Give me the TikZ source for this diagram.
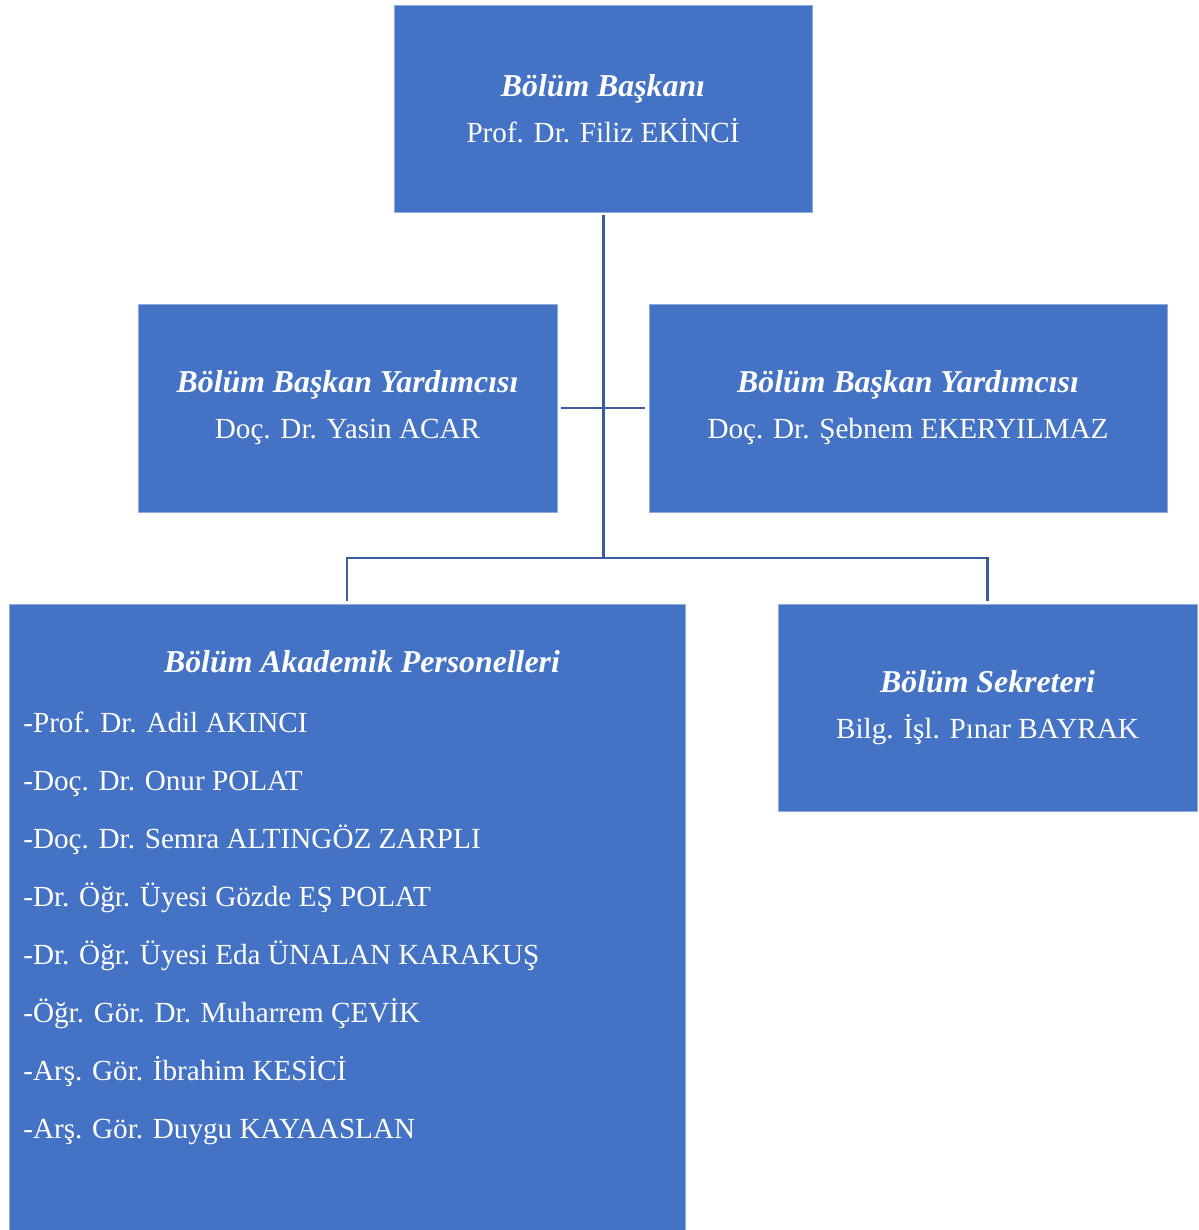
\documentclass[tikz,border=0pt]{standalone}
\usepackage{fontspec}
\setmainfont{Liberation Serif}
\usetikzlibrary{positioning}
\definecolor{boxblue}{HTML}{4472C4}
\definecolor{boxedge}{HTML}{8FAADC}
\definecolor{linkblue}{HTML}{3A5C9E}
\newcommand{\unittitle}[1]{{\fontsize{18.1}{26.2}\selectfont\bfseries\itshape #1}}

\tikzset{
  unit/.style={rectangle, fill=boxblue, draw=boxedge, line width=0.4pt, text=white,
    align=center, inner sep=0pt, font=\fontsize{16.6}{26.2}\selectfont},
  member/.style={text=white, anchor=base west, inner sep=0pt, font=\fontsize{16.6}{20}\selectfont},
  link/.style={draw=linkblue, line width=1.7pt}
}

\begin{document}
\begin{tikzpicture}[x=0.02cm, y=-0.02cm]
  \useasboundingbox (0,0) rectangle (1198,1230);

  % boxes
  \node (head) [unit, minimum width=8.36cm, minimum height=4.14cm] at (603,108.5)
    {\unittitle{Bölüm Başkanı}\\Prof. Dr. Filiz EKİNCİ};
  \node (deputyA) [unit, minimum width=8.38cm, minimum height=4.16cm] at (347.5,408)
    {\unittitle{Bölüm Başkan Yardımcısı}\\Doç. Dr. Yasin ACAR};
  \node (deputyB) [unit, minimum width=10.36cm, minimum height=4.16cm] at (908,408)
    {\unittitle{Bölüm Başkan Yardımcısı}\\Doç. Dr. Şebnem EKERYILMAZ};
  \node (staff) [unit, minimum width=13.52cm, minimum height=12.52cm] at (347,917) {};
  \node (secretary) [unit, minimum width=8.38cm, minimum height=4.14cm] at (987.5,707.5)
    {\unittitle{Bölüm Sekreteri}\\Bilg. İşl. Pınar BAYRAK};

  % academic staff list
  \node (stafftitle) [text=white, anchor=base, inner sep=0pt] at (362,672)
    {\unittitle{Bölüm Akademik Personelleri}};
  \foreach \name [count=\i] in {-Prof. Dr. Adil AKINCI, -Doç. Dr. Onur POLAT,
      -Doç. Dr. Semra ALTINGÖZ ZARPLI, -Dr. Öğr. Üyesi Gözde EŞ POLAT,
      -Dr. Öğr. Üyesi Eda ÜNALAN KARAKUŞ, -Öğr. Gör. Dr. Muharrem ÇEVİK,
      -Arş. Gör. İbrahim KESİCİ, -Arş. Gör. Duygu KAYAASLAN}
    \node (item\i) [member] at (23,{732+58.1*(\i-1)}) {\name};

  % connectors
  \coordinate (hub) at (603,558);
  \draw [link] ([yshift=-0.06cm]head.south) -- (hub);
  \draw [link] ([xshift=0.08cm]deputyA.east) -- ([xshift=-0.08cm]deputyB.west);
  \draw [link] (hub) -| ([yshift=0.06cm]staff.north);
  \draw [link] (hub) -| ([yshift=0.06cm]secretary.north);
\end{tikzpicture}
\end{document}
